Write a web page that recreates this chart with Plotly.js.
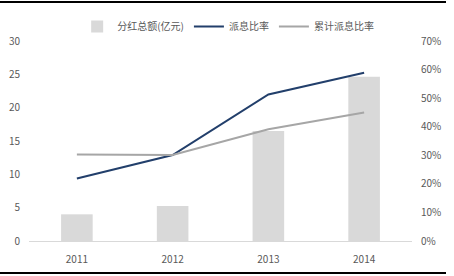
<!DOCTYPE html>
<html><head><meta charset="utf-8">
<script src="https://cdn.plot.ly/plotly-3.0.1.min.js"></script>
<style>
html,body{margin:0;padding:0;background:#fff;}
#wrap{position:relative;width:454px;height:276px;}
#chart{width:454px;height:276px;}
.rule{position:absolute;left:0;width:446px;height:2px;background:#000;}
</style></head>
<body>
<div id="wrap">
<div id="chart"></div>
<div class="rule" style="top:1px"></div>
<div class="rule" style="top:272px"></div>
</div>
<script>
const years = ['2011','2012','2013','2014'];
const dividendTotal = [4.0, 5.25, 16.5, 24.65];
const payoutRatio = [0.219, 0.301, 0.513, 0.589];
const cumPayoutRatio = [0.303, 0.301, 0.391, 0.450];
const names = ['分红总额(亿元)','派息比率','累计派息比率'];

const font = {family:'"Noto Sans CJK SC", "Liberation Sans", sans-serif', size:10, color:'#595959'};
const data = [
  {type:'bar', x:years, y:dividendTotal, name:names[0], marker:{color:'#D9D9D9'}, width:0.33, hoverinfo:'none'},
  {type:'scatter', mode:'lines', x:years, y:payoutRatio, name:names[1], yaxis:'y2', line:{color:'#223F6B', width:2}},
  {type:'scatter', mode:'lines', x:years, y:cumPayoutRatio, name:names[2], yaxis:'y2', line:{color:'#A6A6A6', width:2}}
];
const layout = {
  width:454, height:276,
  margin:{l:29, r:42, t:41, b:35},
  paper_bgcolor:'#fff', plot_bgcolor:'#fff',
  font:font,
  showlegend:true,
  legend:{orientation:'h', x:0.52, xanchor:'center', y:1.0, yanchor:'bottom', yref:'paper', font:{family:font.family, size:10, color:'#595959'}, traceorder:'normal', itemwidth:30, tracegroupgap:0},
  xaxis:{type:'category', showline:true, linecolor:'#D9D9D9', linewidth:1, ticks:'', showgrid:false, tickfont:{size:10, color:'#595959'}, ticklabelstandoff:9},
  yaxis:{range:[0,30], dtick:5, showgrid:false, zeroline:false, showline:false, ticks:'', tickfont:{size:10, color:'#595959'}, ticklabelstandoff:8},
  yaxis2:{overlaying:'y', side:'right', range:[0,0.7], dtick:0.1, tickformat:'.0%', showgrid:false, zeroline:false, showline:false, ticks:'', tickfont:{size:10, color:'#595959'}, ticklabelstandoff:8},
  bargap:0.67
};
Plotly.newPlot('chart', data, layout, {displayModeBar:false, staticPlot:true});
</script>
</body></html>
